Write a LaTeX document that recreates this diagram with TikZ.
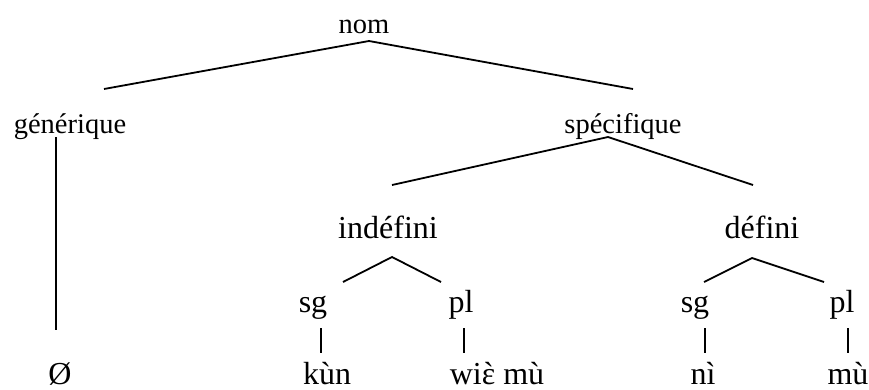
\documentclass[tikz,border=0pt]{standalone}
\usepackage{fontspec}
\setmainfont{Liberation Serif}
\newcommand{\epsgrave}{\ooalign{ɛ\cr\hidewidth\char"02CB\hidewidth\cr}}
\begin{document}
\begin{tikzpicture}[x=1pt,y=-1pt,
  up/.style={inner sep=0pt,anchor=base,font=\fontsize{28.5}{30}\selectfont},
  low/.style={inner sep=0pt,anchor=base,font=\fontsize{32}{34}\selectfont},
  leaf/.style={low,text depth=0pt},
  branch/.style={line width=1.8pt}]
\useasboundingbox (0,0) rectangle (869,389);
% nodes
\node[up] (nom) at (364,33) {nom};
\node[up] (gen) at (70,133) {générique};
\node[up] (spec) at (623,133) {spécifique};
\node[low] (indef) at (388,238) {indéfini};
\node[low] (def) at (762,238) {défini};
\node[low] (sgA) at (313,312) {sg};
\node[low] (plA) at (461,312) {pl};
\node[low] (sgB) at (695,312) {sg};
\node[low] (plB) at (842,312) {pl};
\node[leaf] (zero) at (60,384) {Ø};
\node[leaf] (kun) at (327,384) {kùn};
\node[leaf] (wie) at (497,384) {wi\epsgrave\ mù};
\node[leaf] (ni) at (703,384) {nì};
\node[leaf] (mu) at (848,384) {mù};
% connector points
\coordinate (nomA) at (369,41);
\coordinate (nomL) at (104,89);
\coordinate (nomR) at (633,89);
\coordinate (genT) at (56,137);
\coordinate (genB) at (56,330);
\coordinate (specA) at (608,137);
\coordinate (specL) at (392,185);
\coordinate (specR) at (753,185);
\coordinate (indA) at (392,257);
\coordinate (indL) at (343,282);
\coordinate (indR) at (441,282);
\coordinate (defA) at (752,258);
\coordinate (defL) at (704,282);
\coordinate (defR) at (824,282);
\coordinate (sgAT) at (321,328);
\coordinate (sgAB) at (321,353);
\coordinate (plAT) at (464,328);
\coordinate (plAB) at (464,353);
\coordinate (sgBT) at (705,328);
\coordinate (sgBB) at (705,353);
\coordinate (plBT) at (848,328);
\coordinate (plBB) at (848,353);
% connectors
\draw[branch] (nomL) -- (nomA) -- (nomR);
\draw[branch] (genT) -- (genB);
\draw[branch] (specL) -- (specA) -- (specR);
\draw[branch] (indL) -- (indA) -- (indR);
\draw[branch] (defL) -- (defA) -- (defR);
\draw[branch] (sgAT) -- (sgAB);
\draw[branch] (plAT) -- (plAB);
\draw[branch] (sgBT) -- (sgBB);
\draw[branch] (plBT) -- (plBB);
\end{tikzpicture}
\end{document}
